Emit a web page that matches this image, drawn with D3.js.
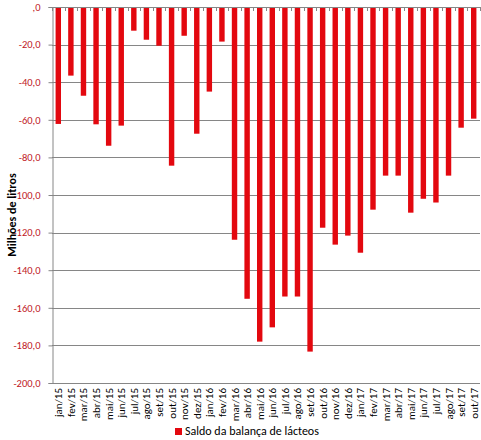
<!DOCTYPE html>
<html>
<head>
<meta charset="utf-8">
<script src="https://cdn.jsdelivr.net/npm/d3@7"></script>
<style>
  body { margin: 0; background: #fff; }
  text { font-family: Carlito, "Liberation Sans", Arial, sans-serif; }
</style>
</head>
<body>
<div id="chart"></div>
<script>
// months on the category axis
const months = [
  "jan/15", "fev/15", "mar/15", "abr/15", "mai/15", "jun/15", "jul/15", "ago/15",
  "set/15", "out/15", "nov/15", "dez/15", "jan/16", "fev/16", "mar/16", "abr/16",
  "mai/16", "jun/16", "jul/16", "ago/16", "set/16", "out/16", "nov/16", "dez/16",
  "jan/17", "fev/17", "mar/17", "abr/17", "mai/17", "jun/17", "jul/17", "ago/17",
  "set/17", "out/17"
];

// saldo (milhoes de litros)
const saldo = [
  -62.2, -36.5, -47.2, -62.4, -73.8, -63.1, -12.6, -17.4,
  -20.6, -84.4, -15.3, -67.4, -45.0, -18.4, -123.8, -155.2,
  -178.0, -170.4, -154.0, -154.0, -183.3, -117.4, -126.4, -121.6,
  -130.7, -107.8, -89.7, -89.7, -109.4, -102.0, -104.0, -89.7,
  -64.2, -59.4
];

const yTicks = [0, -20, -40, -60, -80, -100, -120, -140, -160, -180, -200];
const yTickLabels = [",0", "-20,0", "-40,0", "-60,0", "-80,0", "-100,0", "-120,0",
  "-140,0", "-160,0", "-180,0", "-200,0"];

const seriesName = "Saldo da balança de lácteos";
const yTitle = "Milhões de litros";

const width = 481, height = 440;
const plotLeft = 52, plotRight = 480, plotTop = 7, plotBottom = 383;

const svg = d3.select("#chart").append("svg")
  .attr("width", width)
  .attr("height", height);

const x = d3.scaleBand()
  .domain(months)
  .range([plotLeft, plotRight])
  .paddingInner(0.57)
  .paddingOuter(0.285);

const y = d3.scaleLinear()
  .domain([-200, 0])
  .range([plotBottom, plotTop]);

// gridlines
svg.append("g")
  .selectAll("line")
  .data(yTicks.filter(d => d !== 0))
  .join("line")
  .attr("x1", plotLeft)
  .attr("x2", plotRight)
  .attr("y1", d => Math.round(y(d)) + 0.5)
  .attr("y2", d => Math.round(y(d)) + 0.5)
  .attr("stroke", "#868686")
  .attr("stroke-width", 1);

// y axis
const yAxis = svg.append("g")
  .attr("transform", `translate(${plotLeft + 0.5},0)`)
  .call(d3.axisLeft(y)
    .tickValues(yTicks)
    .tickSize(4)
    .tickPadding(8)
    .tickFormat((d, i) => yTickLabels[i]));
yAxis.select(".domain").attr("stroke", "#868686");
yAxis.selectAll(".tick line").attr("stroke", "#868686");
yAxis.selectAll(".tick text")
  .attr("fill", "#c0181f")
  .style("font-size", "10.5px");

// bars
svg.append("g")
  .selectAll("rect")
  .data(saldo)
  .join("rect")
  .attr("x", (d, i) => x(months[i]))
  .attr("y", y(0))
  .attr("width", x.bandwidth())
  .attr("height", d => y(d) - y(0))
  .attr("fill", "#e3080f");

// category axis sitting on the zero line, ticks between categories
const gap = x.step() - x.bandwidth();
const bounds = months.map(m => x(m) - gap / 2).concat([plotRight]);
svg.append("line")
  .attr("x1", plotLeft).attr("x2", plotRight)
  .attr("y1", Math.round(y(0)) + 0.5).attr("y2", Math.round(y(0)) + 0.5)
  .attr("stroke", "#868686");
svg.append("g")
  .selectAll("line")
  .data(bounds)
  .join("line")
  .attr("x1", d => Math.round(d) + 0.5)
  .attr("x2", d => Math.round(d) + 0.5)
  .attr("y1", y(0))
  .attr("y2", y(0) + 4)
  .attr("stroke", "#868686");

// category labels at the bottom, rotated
svg.append("g")
  .selectAll("text")
  .data(months)
  .join("text")
  .attr("transform", d => `translate(${x(d) + x.bandwidth() / 2 + 4},${plotBottom + 5}) rotate(-90)`)
  .attr("text-anchor", "end")
  .attr("fill", "#000")
  .style("font-size", "11px")
  .text(d => d);

// y title
svg.append("text")
  .attr("transform", "translate(16,215) rotate(-90)")
  .attr("text-anchor", "middle")
  .style("font-size", "12px")
  .style("font-weight", "bold")
  .text(yTitle);

// legend
const legend = svg.append("g").attr("transform", "translate(175,428)");
legend.append("rect")
  .attr("width", 7).attr("height", 7)
  .attr("fill", "#e3080f");
legend.append("text")
  .attr("x", 10).attr("y", 7)
  .style("font-size", "12px")
  .text(seriesName);
</script>
</body>
</html>
